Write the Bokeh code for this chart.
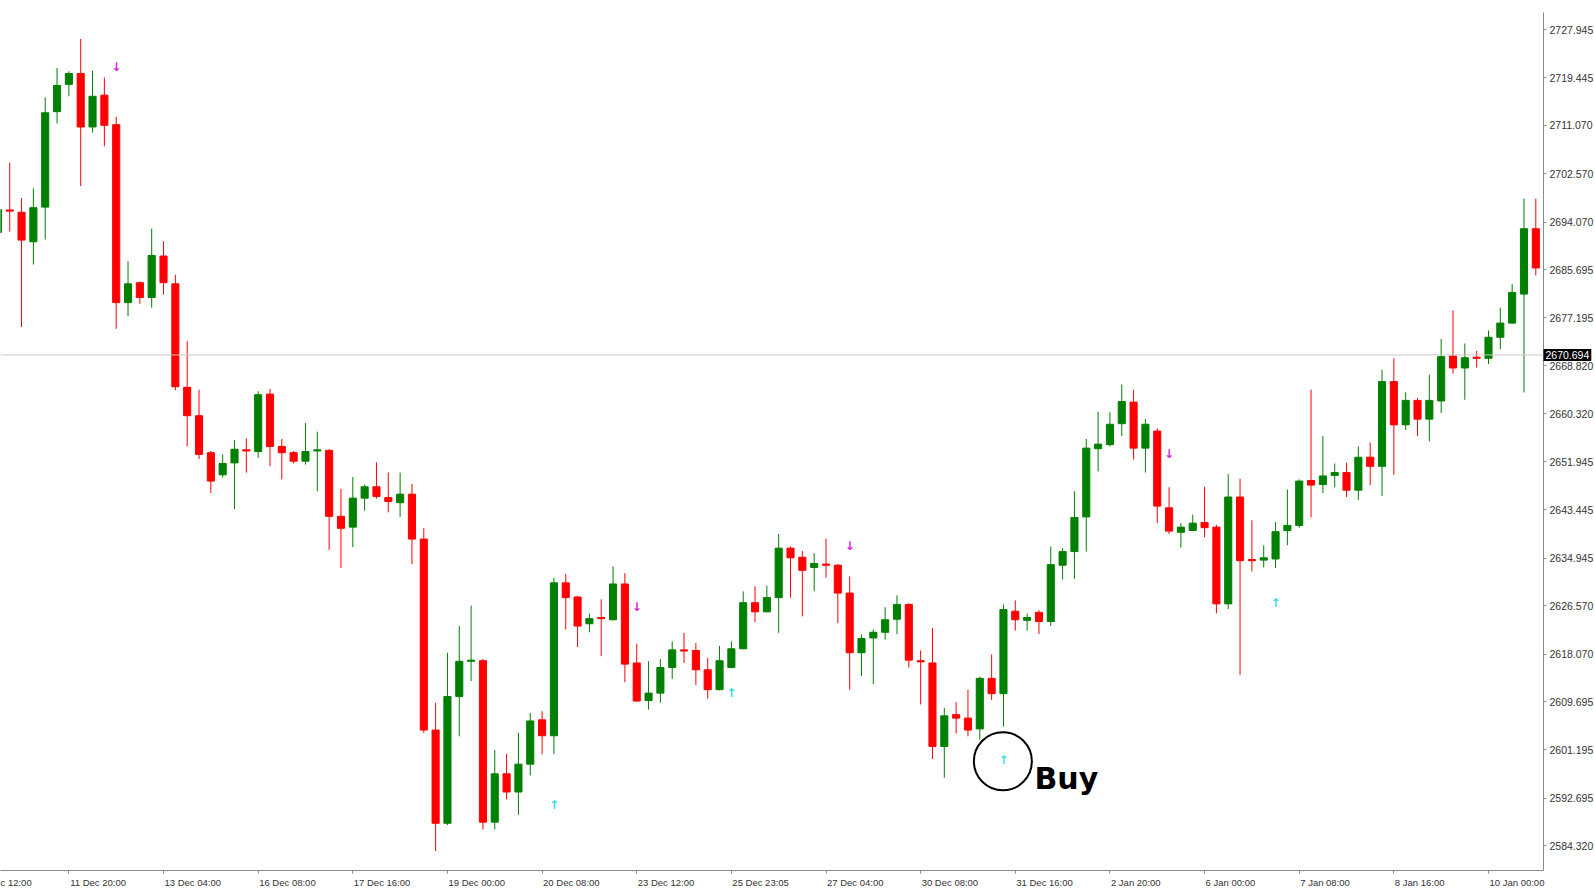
from bokeh.plotting import figure
from bokeh.models import (Range1d, FixedTicker, PrintfTickFormatter, Span, Label,
                          ColumnDataSource, LinearAxis)
from bokeh.core.properties import value
from bokeh.embed import file_html
from bokeh.resources import INLINE

# ---- data (H4 candles, index 0 = 10 Dec 20:00) ----
opens = [2692.2, 2696.2, 2695.8, 2690.6, 2696.7, 2713.5, 2718.3, 2720.2, 2710.8, 2716.4,
         2711.2, 2679.9, 2683.4, 2680.8, 2688.1, 2683.2, 2665.0, 2660.0, 2653.5, 2649.6,
         2651.7, 2654.0, 2653.7, 2663.8, 2654.6, 2653.5, 2652.0, 2653.8, 2653.9, 2642.3,
         2640.4, 2645.5, 2647.5, 2645.6, 2644.7, 2646.2, 2638.3, 2604.7, 2588.3, 2610.6,
         2616.8, 2616.9, 2588.5, 2597.0, 2593.8, 2598.7, 2606.5, 2603.7, 2630.6, 2628.1,
         2623.4, 2624.5, 2624.1, 2630.4, 2616.5, 2609.9, 2611.2, 2615.7, 2618.8, 2618.7,
         2615.3, 2611.8, 2615.7, 2619.0, 2627.1, 2625.5, 2628.0, 2636.7, 2635.1, 2633.3,
         2633.9, 2633.7, 2628.8, 2618.3, 2620.9, 2621.9, 2624.2, 2626.8, 2616.9, 2616.5,
         2601.8, 2607.4, 2606.8, 2604.9, 2613.8, 2611.1, 2625.6, 2624.0, 2625.4, 2623.8,
         2633.7, 2636.1, 2642.2, 2654.2, 2654.9, 2658.6, 2662.4, 2654.3, 2657.3, 2643.8,
         2639.5, 2639.8, 2641.2, 2640.4, 2626.9, 2645.7, 2634.7, 2634.6, 2634.8, 2639.8,
         2640.7, 2648.6, 2647.9, 2649.5, 2650.0, 2646.9, 2652.7, 2651.1, 2666.0, 2658.4,
         2662.7, 2659.4, 2662.6, 2670.5, 2668.4, 2670.3, 2670.1, 2673.8, 2676.3, 2681.4,
         2692.9]
highs = [2697.5, 2704.5, 2698.3, 2700.0, 2716.0, 2721.2, 2720.6, 2726.3, 2720.7, 2719.5,
         2712.6, 2687.2, 2683.6, 2692.9, 2690.7, 2684.8, 2673.1, 2664.6, 2653.8, 2653.2,
         2655.7, 2656.0, 2664.3, 2664.7, 2655.9, 2653.8, 2658.7, 2657.2, 2654.1, 2647.1,
         2649.2, 2647.9, 2651.8, 2650.0, 2650.0, 2648.0, 2640.2, 2609.5, 2618.3, 2623.0,
         2626.6, 2617.2, 2601.2, 2600.5, 2604.2, 2607.7, 2608.0, 2631.5, 2632.2, 2628.3,
         2625.2, 2627.7, 2633.5, 2632.3, 2619.9, 2616.8, 2617.2, 2620.3, 2621.8, 2620.0,
         2617.4, 2619.5, 2620.3, 2629.1, 2630.0, 2630.1, 2639.2, 2637.0, 2636.2, 2635.8,
         2638.4, 2633.9, 2631.7, 2621.5, 2622.4, 2626.3, 2628.4, 2627.0, 2618.7, 2622.7,
         2608.6, 2609.6, 2611.8, 2614.1, 2618.0, 2626.8, 2627.5, 2625.2, 2625.8, 2637.0,
         2636.7, 2646.7, 2655.9, 2660.7, 2660.6, 2665.5, 2664.6, 2659.4, 2657.8, 2647.4,
         2641.1, 2642.6, 2647.5, 2640.8, 2649.7, 2648.9, 2641.6, 2637.2, 2641.3, 2647.0,
         2648.8, 2664.6, 2656.4, 2651.6, 2651.7, 2654.6, 2655.3, 2668.1, 2670.1, 2664.1,
         2663.1, 2667.2, 2673.5, 2678.5, 2672.7, 2671.4, 2675.0, 2679.0, 2683.2, 2698.2,
         2698.2]
lows = [2689.5, 2692.4, 2675.6, 2686.6, 2691.0, 2711.4, 2716.2, 2700.4, 2709.8, 2707.4,
        2675.3, 2677.5, 2679.7, 2679.0, 2681.3, 2664.5, 2654.6, 2652.4, 2646.4, 2649.1,
        2643.6, 2650.0, 2652.6, 2651.1, 2648.8, 2651.6, 2651.4, 2646.7, 2636.4, 2633.2,
        2636.9, 2643.3, 2645.4, 2643.0, 2642.2, 2633.9, 2604.2, 2583.4, 2588.0, 2603.6,
        2613.3, 2587.2, 2587.2, 2592.5, 2589.8, 2596.7, 2600.4, 2600.5, 2622.4, 2619.3,
        2621.9, 2617.7, 2624.0, 2613.1, 2609.7, 2608.3, 2609.5, 2613.7, 2616.5, 2612.6,
        2610.2, 2611.7, 2615.6, 2618.9, 2623.7, 2625.4, 2621.8, 2628.0, 2624.7, 2629.1,
        2631.5, 2623.5, 2611.8, 2614.2, 2612.8, 2620.6, 2621.6, 2615.7, 2609.2, 2599.6,
        2596.3, 2604.1, 2603.6, 2603.0, 2610.0, 2605.3, 2622.2, 2622.2, 2621.6, 2623.0,
        2631.2, 2631.3, 2636.1, 2650.2, 2654.6, 2656.4, 2652.3, 2650.0, 2641.1, 2639.2,
        2636.8, 2639.7, 2638.6, 2625.2, 2626.0, 2614.4, 2632.6, 2633.3, 2633.2, 2637.2,
        2640.3, 2642.1, 2646.4, 2647.4, 2645.7, 2645.2, 2647.8, 2645.9, 2649.6, 2657.5,
        2656.4, 2655.5, 2660.5, 2667.4, 2662.8, 2668.5, 2669.1, 2671.7, 2676.2, 2664.1,
        2684.7]
closes = [2696.3, 2696.0, 2690.9, 2696.6, 2713.3, 2718.1, 2720.2, 2710.8, 2716.2, 2711.1,
          2679.9, 2683.2, 2680.8, 2688.2, 2683.4, 2665.1, 2660.0, 2653.2, 2648.5, 2651.6,
          2654.1, 2653.8, 2663.7, 2654.6, 2653.5, 2652.0, 2653.7, 2654.0, 2642.3, 2640.2,
          2645.5, 2647.5, 2645.8, 2644.9, 2646.2, 2638.3, 2604.7, 2588.3, 2610.6, 2616.8,
          2617.0, 2588.5, 2597.0, 2593.8, 2598.7, 2606.3, 2603.7, 2630.6, 2628.0, 2623.0,
          2624.3, 2624.3, 2630.4, 2616.3, 2609.8, 2611.2, 2615.7, 2618.8, 2618.6, 2615.3,
          2611.8, 2616.9, 2619.0, 2627.1, 2625.5, 2628.0, 2636.7, 2635.0, 2632.8, 2634.0,
          2633.7, 2628.8, 2618.3, 2620.8, 2621.9, 2624.1, 2626.8, 2617.0, 2616.7, 2601.8,
          2607.2, 2606.8, 2604.7, 2613.8, 2611.1, 2625.9, 2624.1, 2624.5, 2623.8, 2633.8,
          2636.1, 2642.1, 2654.3, 2655.0, 2658.5, 2662.5, 2654.3, 2658.5, 2644.1, 2639.7,
          2640.4, 2641.1, 2640.3, 2626.9, 2645.7, 2634.5, 2634.5, 2635.0, 2639.6, 2640.7,
          2648.5, 2647.8, 2649.4, 2650.0, 2646.9, 2652.7, 2651.1, 2666.0, 2658.4, 2662.7,
          2659.4, 2662.7, 2670.4, 2668.4, 2670.2, 2670.1, 2673.8, 2676.3, 2681.7, 2692.9,
          2686.0]

sell_idx = [10, 54, 72, 99]
sell_price = [2721.3, 2626.3, 2637.0, 2653.3]
buy_idx = [47, 62, 85, 108]
buy_price = [2591.5, 2611.2, 2599.5, 2627.1]

price_ticks = [2584.320, 2592.695, 2601.195, 2609.695, 2618.070, 2626.570, 2634.945,
               2643.445, 2651.945, 2660.320, 2668.820, 2677.195, 2685.695, 2694.070,
               2702.570, 2711.070, 2719.445, 2727.945]
time_tick_idx = [6, 14, 22, 30, 38, 46, 54, 62, 70, 78, 86, 94, 102, 110, 118, 126]
time_labels = ["11 Dec 20:00", "13 Dec 04:00", "16 Dec 08:00", "17 Dec 16:00",
               "19 Dec 00:00", "20 Dec 08:00", "23 Dec 12:00", "25 Dec 23:05",
               "27 Dec 04:00", "30 Dec 08:00", "31 Dec 16:00", "2 Jan 20:00",
               "6 Jan 00:00", "7 Jan 08:00", "8 Jan 16:00", "10 Jan 00:00"]
first_label = "c 12:00"          # the cut-off "10 Dec 12:00" at the left edge
current_price = 2670.694

GREEN = "#008000"
RED = "#ff0000"
AXIS = "#8a8a8a"
LABEL = "#333333"

# ---- layout ----
FRAME_W, FRAME_H = 1543, 858
X0, X1 = 0.22, 130.65
Y0, Y1 = 2579.99, 2730.94
px_per_idx = FRAME_W / (X1 - X0)

n = len(opens)
idx = list(range(n))
colors = [GREEN if c >= o else RED for o, c in zip(opens, closes)]
src = ColumnDataSource(dict(
    x=idx, o=opens, h=highs, l=lows, c=closes,
    top=[max(o, c) for o, c in zip(opens, closes)],
    bot=[min(o, c) for o, c in zip(opens, closes)],
    color=colors))

p = figure(frame_width=FRAME_W, frame_height=FRAME_H,
           x_range=Range1d(X0, X1), y_range=Range1d(Y0, Y1),
           output_backend="svg", toolbar_location=None, min_border=0,
           y_axis_location="right", background_fill_color="white",
           border_fill_color="white")
p.outline_line_color = None
p.grid.visible = False

# price scale
ya = p.yaxis[0]
ya.ticker = FixedTicker(ticks=price_ticks)
ya.formatter = PrintfTickFormatter(format="%.3f")
ya.axis_line_color = AXIS
ya.major_tick_line_color = AXIS
ya.major_tick_out = 3
ya.major_tick_in = 0
ya.minor_tick_line_color = None
ya.major_label_text_font = "Liberation Sans"
ya.major_label_text_font_size = "10.5px"
ya.major_label_text_color = LABEL
ya.major_label_standoff = 3

# time scale: inner axis carries the tick marks, outer axis carries left-aligned labels
xa = p.xaxis[0]
xa.ticker = FixedTicker(ticks=time_tick_idx)
xa.major_label_overrides = {t: "" for t in time_tick_idx}
xa.major_label_text_font_size = "0px"
xa.major_label_standoff = 0
xa.axis_line_color = AXIS
xa.major_tick_line_color = AXIS
xa.major_tick_out = 3
xa.major_tick_in = 0
xa.minor_tick_line_color = None

FS = 9.5
CW = {"0": 0.556, "1": 0.556, "2": 0.556, "3": 0.556, "4": 0.556, "5": 0.556, "6": 0.556,
      "7": 0.556, "8": 0.556, "9": 0.556, " ": 0.278, ":": 0.278, "D": 0.722, "e": 0.556,
      "c": 0.5, "J": 0.5, "a": 0.556, "n": 0.556}

def text_w(s):
    return sum(CW.get(ch, 0.556) for ch in s) * FS

label_pos = [round(X0 + (text_w(first_label) / 2) / px_per_idx, 3)]
label_txt = [first_label]
for t, s in zip(time_tick_idx, time_labels):
    label_pos.append(round(t + (text_w(s) / 2 + 1) / px_per_idx, 3))
    label_txt.append(s)
xl = LinearAxis(ticker=FixedTicker(ticks=label_pos),
                major_label_overrides={pp: s for pp, s in zip(label_pos, label_txt)},
                axis_line_color=None, major_tick_line_color=None, major_tick_out=0,
                major_tick_in=0, minor_tick_line_color=None,
                major_label_text_font="Liberation Sans", major_label_text_font_size="%spx" % FS,
                major_label_text_color=LABEL, major_label_standoff=3)
p.add_layout(xl, "below")

# current price line
p.add_layout(Span(location=current_price, dimension="width", line_color="#c8c8c8", line_width=1))

# candles
p.segment(x0="x", y0="l", x1="x", y1="h", source=src, line_color="color", line_width=1)
p.vbar(x="x", width=0.6, top="top", bottom="bot", source=src,
       fill_color="color", line_color="color", line_width=1)

# signal arrows
p.text(x=sell_idx, y=sell_price, text=["\u2193"] * len(sell_idx), text_color="#e020e0",
       text_font=value("DejaVu Sans"), text_font_size="12px", text_font_style="bold",
       text_align="center", text_baseline="middle")
p.text(x=buy_idx, y=buy_price, text=["\u2191"] * len(buy_idx), text_color="#30e0e8",
       text_font=value("DejaVu Sans"), text_font_size="12px", text_font_style="bold",
       text_align="center", text_baseline="middle")

# Buy annotation
p.scatter(x=[84.95], y=[2599.2], marker="circle", size=58, fill_color=None,
          line_color="black", line_width=2)
p.text(x=[87.62], y=[2596.2], text=["Buy"], text_color="black",
       text_font=value("DejaVu Sans"), text_font_size="30px", text_font_style="bold",
       text_align="left", text_baseline="alphabetic")

# current price tag on the price scale (side-panel annotation so it is not clipped)
tag = Label(x=X1, y=current_price, x_units="data", y_units="data",
            text="%.3f" % current_price, text_color="white", background_fill_color="black",
            text_font="Liberation Sans", text_font_size="10.5px",
            text_align="left", text_baseline="middle", padding=2)
p.add_layout(tag, "above")

open("out.html", "w").write(file_html(p, INLINE))
